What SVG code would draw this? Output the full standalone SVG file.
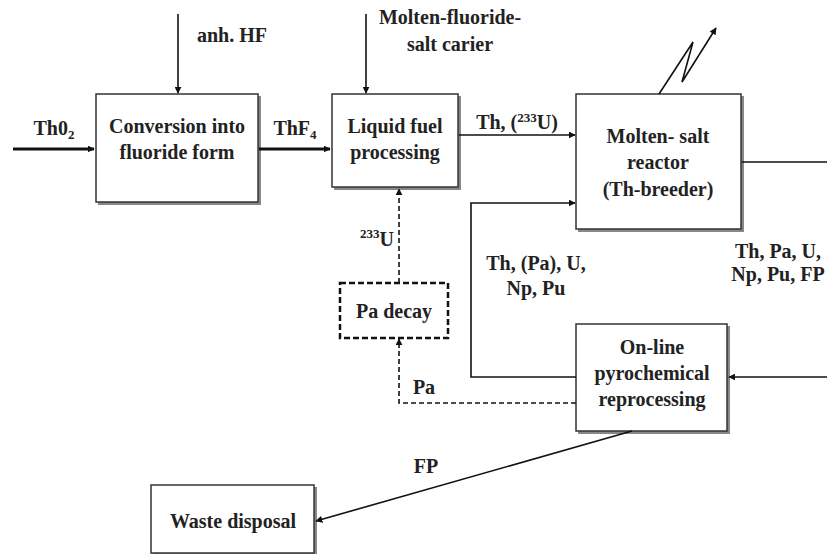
<svg xmlns="http://www.w3.org/2000/svg" width="827" height="554" viewBox="0 0 827 554">
<defs>
<marker id="ah" viewBox="0 0 10 10" refX="9" refY="5" markerWidth="7" markerHeight="7" orient="auto" markerUnits="userSpaceOnUse"><path d="M0,0 L10,5 L0,10 z" fill="#111"/></marker>
</defs>
<style>
text{font-family:'Liberation Serif','Times New Roman','DejaVu Serif',serif;font-weight:bold;font-size:20px;fill:#222;text-anchor:middle}
.box{fill:#fff;stroke:#333;stroke-width:1.5}
.sh{fill:#888;stroke:none}
.ln{fill:none;stroke:#111;stroke-width:1.6}
.thick{fill:none;stroke:#111;stroke-width:3}
.dash{fill:none;stroke:#111;stroke-width:1.6;stroke-dasharray:5,3}
.sub{font-size:13px}
</style>
<g id="conversion">
<rect class="sh" x="98" y="96" width="163" height="109"/>
<rect class="box" x="96" y="94" width="162" height="108"/>
<text x="177" y="133">Conversion into</text>
<text x="177" y="159">fluoride form</text>
</g>
<g id="liquid-fuel">
<rect class="sh" x="334" y="96" width="127" height="94"/>
<rect class="box" x="332" y="94" width="126" height="93"/>
<text x="395" y="133">Liquid fuel</text>
<text x="395" y="159">processing</text>
</g>
<g id="reactor">
<rect class="sh" x="578" y="96" width="166" height="136"/>
<rect class="box" x="576" y="94" width="165" height="135"/>
<text x="658" y="143">Molten- salt</text>
<text x="658" y="169">reactor</text>
<text x="658" y="196">(Th-breeder)</text>
</g>
<g id="pa-decay">
<rect x="340" y="283" width="108" height="55" fill="#fff" stroke="#111" stroke-width="2.5" stroke-dasharray="6,3"/>
<text x="394" y="318">Pa decay</text>
</g>
<g id="online">
<rect class="sh" x="578" y="326" width="152" height="108"/>
<rect class="box" x="576" y="324" width="151" height="107"/>
<text x="652" y="354">On-line</text>
<text x="652" y="380">pyrochemical</text>
<text x="652" y="406">reprocessing</text>
</g>
<g id="waste">
<rect class="sh" x="153" y="487" width="164" height="70"/>
<rect class="box" x="151" y="485" width="163" height="68"/>
<text x="233" y="528">Waste disposal</text>
</g>
<g id="connectors">
<line class="thick" x1="13" y1="149" x2="94" y2="149" marker-end="url(#ah)"/>
<text x="54" y="135">Th0<tspan class="sub" dy="4">2</tspan></text>
<line class="ln" x1="178" y1="14" x2="178" y2="93" marker-end="url(#ah)"/>
<text x="232" y="42">anh. HF</text>
<line class="thick" x1="259" y1="149" x2="330" y2="149" marker-end="url(#ah)"/>
<text x="295" y="135">ThF<tspan class="sub" dy="4">4</tspan></text>
<line class="ln" x1="366" y1="14" x2="366" y2="93" marker-end="url(#ah)"/>
<text x="450" y="24">Molten-fluoride-</text>
<text x="450" y="51">salt carier</text>
<line class="ln" x1="459" y1="135" x2="575" y2="135" marker-end="url(#ah)"/>
<text x="517" y="129">Th, (<tspan class="sub" dy="-7">233</tspan><tspan dy="7">U)</tspan></text>
<path class="ln" d="M659,94 L693,42 L682,82 L716,28" marker-end="url(#ah)"/>
<line class="ln" x1="742" y1="162" x2="827" y2="162"/>
<text x="778" y="258">Th, Pa, U,</text>
<text x="778" y="281">Np, Pu, FP</text>
<line class="ln" x1="827" y1="377" x2="729" y2="377" marker-end="url(#ah)"/>
<path class="ln" d="M576,377 L471,377 L471,203 L575,203" marker-end="url(#ah)"/>
<text x="536" y="270">Th, (Pa), U,</text>
<text x="536" y="295">Np, Pu</text>
<line class="dash" x1="399" y1="283" x2="399" y2="189" marker-end="url(#ah)"/>
<text x="377" y="246"><tspan class="sub" dy="-8">233</tspan><tspan dy="8">U</tspan></text>
<path class="dash" d="M576,403 L399,403 L399,339" marker-end="url(#ah)"/>
<text x="424" y="394">Pa</text>
<line class="ln" x1="632" y1="431" x2="316" y2="521" stroke-width="2" marker-end="url(#ah)"/>
<text x="426" y="473">FP</text>
</g>
</svg>
